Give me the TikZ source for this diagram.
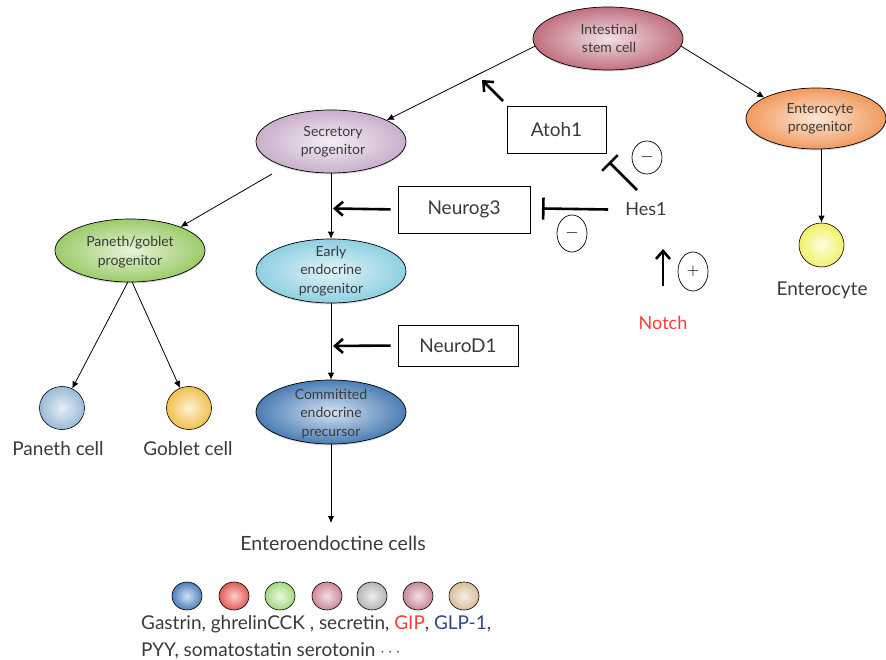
\documentclass[tikz,border=0pt]{standalone}
\usepackage{fontspec}
\setmainfont{Lato}
\usetikzlibrary{arrows.meta,shapes.geometric,shadows}
\definecolor{txt}{HTML}{3A3A3A}
\definecolor{notchred}{HTML}{FF3B3B}
\definecolor{glpblue}{HTML}{2F4A80}
\begin{document}
\begin{tikzpicture}[x=1pt,y=-1pt,
  cell/.style={ellipse, draw=black, line width=0.7pt, inner sep=0pt,
    minimum width=150pt, minimum height=63pt,
    drop shadow={shadow xshift=0pt,shadow yshift=-1.5pt,opacity=0.3}},
  celltext/.style={align=center, text=txt, inner sep=0pt, font=\fontsize{14}{18.5}\selectfont},
  ball/.style={ellipse, draw=black, line width=0.6pt, inner sep=0pt},
  tfbox/.style={draw=black, line width=0.8pt, text=txt, inner sep=0pt, font=\fontsize{19}{22}\selectfont},
  plain/.style={text=txt, inner sep=0pt, font=\fontsize{18}{22}\selectfont},
  sign/.style={ellipse, draw=black, line width=0.7pt, inner sep=0pt, minimum width=30pt, font=\fontsize{17}{19}\selectfont},
  thin/.style={line width=0.8pt, -{Latex[length=7pt,width=6.5pt]}},
  thick/.style={line width=2.6pt, -{Straight Barb[length=8pt,width=14pt,line width=2.6pt]}},
  inhib/.style={line width=2.6pt, -{Bar[width=22pt,line width=2.6pt]}}
]
\useasboundingbox (0,0) rectangle (886,660);

% cells
\node[cell, inner color={rgb,255:red,242;green,224;blue,228}, outer color={rgb,255:red,192;green,112;blue,127}] (stem) at (608,38.5) {};
\node[celltext] (stemT) at (609,38.5) {Intestinal\\stem cell};

\node[cell, minimum width=140pt, minimum height=61pt, inner color={rgb,255:red,253;green,230;blue,212}, outer color={rgb,255:red,241;green,154;blue,94}] (entp) at (816,118.5) {};
\node[celltext] (entpT) at (820,119) {Enterocyte\\progenitor};

\node[cell, inner color={rgb,255:red,244;green,238;blue,245}, outer color={rgb,255:red,201;green,175;blue,203}] (sec) at (331,141.5) {};
\node[celltext] (secT) at (333,141.5) {Secretory\\progenitor};

\node[cell, inner color={rgb,255:red,230;green,244;blue,216}, outer color={rgb,255:red,156;green,203;blue,106}] (pg) at (130,250.5) {};
\node[celltext] (pgT) at (130,252) {Paneth/goblet\\progenitor};

\node[cell, minimum height=64pt, inner color={rgb,255:red,226;green,243;blue,248}, outer color={rgb,255:red,142;green,208;blue,226}] (early) at (331,271) {};
\node[celltext] (earlyT) at (331,271) {Early\\endocrine\\progenitor};

\node[cell, minimum height=64pt, inner color={rgb,255:red,213;green,226;blue,240}, outer color={rgb,255:red,74;green,125;blue,181}] (com) at (331,412) {};
\node[celltext] (comT) at (331,414) {Commitited\\endocrine\\precursor};

% mature cells
\node[ball, minimum width=45pt, minimum height=43pt, inner color={rgb,255:red,230;green,238;blue,245}, outer color={rgb,255:red,154;green,187;blue,215}] (pn) at (62,408) {};
\node[plain, anchor=base, font=\fontsize{19}{22}\selectfont] (pnT) at (58,455) {Paneth cell};
\node[ball, minimum width=45pt, minimum height=43pt, inner color={rgb,255:red,253;green,241;blue,211}, outer color={rgb,255:red,241;green,192;blue,78}] (gb) at (189,408) {};
\node[plain, anchor=base, font=\fontsize{19}{22}\selectfont] (gbT) at (188,455) {Goblet cell};
\node[ball, minimum width=45pt, minimum height=44pt, inner color={rgb,255:red,253;green,253;blue,226}, outer color={rgb,255:red,242;green,240;blue,106}] (ent) at (821.5,245) {};
\node[plain, anchor=base, font=\fontsize{19}{22}\selectfont] (entT) at (822,295) {Enterocyte};

\node[plain, anchor=base, font=\fontsize{19.6}{22}\selectfont] (ee) at (333,550) {Enteroendoctine cells};

% hormone cells
\tikzset{hball/.style={ball, minimum width=30pt, minimum height=28pt}}
\node[hball, inner color={rgb,255:red,211;green,224;blue,240}, outer color={rgb,255:red,77;green,127;blue,189}] (h1) at (187,596) {};
\node[hball, inner color={rgb,255:red,249;green,208;blue,204}, outer color={rgb,255:red,228;green,90;blue,85}] (h2) at (234,596) {};
\node[hball, inner color={rgb,255:red,233;green,247;blue,222}, outer color={rgb,255:red,166;green,217;blue,131}] (h3) at (280,596) {};
\node[hball, inner color={rgb,255:red,243;green,225;blue,229}, outer color={rgb,255:red,201;green,136;blue,150}] (h4) at (327,596) {};
\node[hball, inner color={rgb,255:red,238;green,238;blue,238}, outer color={rgb,255:red,181;green,181;blue,181}] (h5) at (372,596) {};
\node[hball, inner color={rgb,255:red,243;green,225;blue,229}, outer color={rgb,255:red,201;green,136;blue,150}] (h6) at (418,596) {};
\node[hball, inner color={rgb,255:red,246;green,238;blue,227}, outer color={rgb,255:red,217;green,190;blue,155}] (h7) at (464,596) {};
\node[plain, anchor=base west, font=\fontsize{19}{22}\selectfont] (hl1) at (141,629) {Gastrin, ghrelinCCK , secretin, \textcolor{notchred}{GIP}, \textcolor{glpblue}{GLP-1},};
\node[plain, anchor=base west, font=\fontsize{19}{22}\selectfont] (hl2) at (141,656) {PYY, somatostatin serotonin $\cdots$};

% transcription factors
\node[tfbox, minimum width=99pt, minimum height=47pt] (atoh) at (556.5,129.5) {Atoh1};
\node[tfbox, minimum width=132pt, minimum height=47pt] (neurog) at (464,209.5) {Neurog3};
\node[tfbox, minimum width=120pt, minimum height=41pt] (neurod) at (458,345.5) {NeuroD1};
\node[plain, inner xsep=17pt] (hes) at (646,209.5) {Hes1};
\node[plain, anchor=base, text=notchred] (notch) at (663,330) {Notch};

% signs
\node[sign, minimum height=33pt] (m1) at (647,157.5) {$-$};
\node[sign, minimum height=37pt] (m2) at (572,233.5) {$-$};
\node[sign, minimum height=39pt] (p1) at (693,271.5) {$+$};

% free ends
\coordinate (secpg) at (272,174);
\coordinate (eetip) at (331,523);
\coordinate (atohs) at (503,101);
\coordinate (atoht) at (482,80);
\coordinate (hesa) at (637,190);
\coordinate (atohbar) at (609,162);
\coordinate (n3bar) at (542,208.5);
\coordinate (n3tip) at (333,208.5);
\coordinate (d1tip) at (333,346);
\coordinate (notchs) at (663,286);
\coordinate (notcht) at (663,249);

% lineage arrows
\draw[thin] (stem.186) -- (sec.21);
\draw[thin] (stem.354) -- (entp.158);
\draw[thin] (secpg) -- (pg.25);
\draw[thin] (sec.south) -- (early.north);
\draw[thin] (pg.266) -- (pn);
\draw[thin] (pg.274) -- (gb);
\draw[thin] (early.south) -- (com.north);
\draw[thin] (com.south) -- (eetip);
\draw[thin] (ent.north |- entp.south) -- (ent.north);

% regulation
\draw[thick] (atohs) -- (atoht);
\draw[inhib] (hesa) -- (atohbar);
\draw[inhib] (hes.west) -- (n3bar);
\draw[thick, shorten <=7pt] (neurog.west) -- (n3tip);
\draw[thick, shorten <=7pt] (neurod.west) -- (d1tip);
\draw[thick] (notchs) -- (notcht);
\end{tikzpicture}
\end{document}
